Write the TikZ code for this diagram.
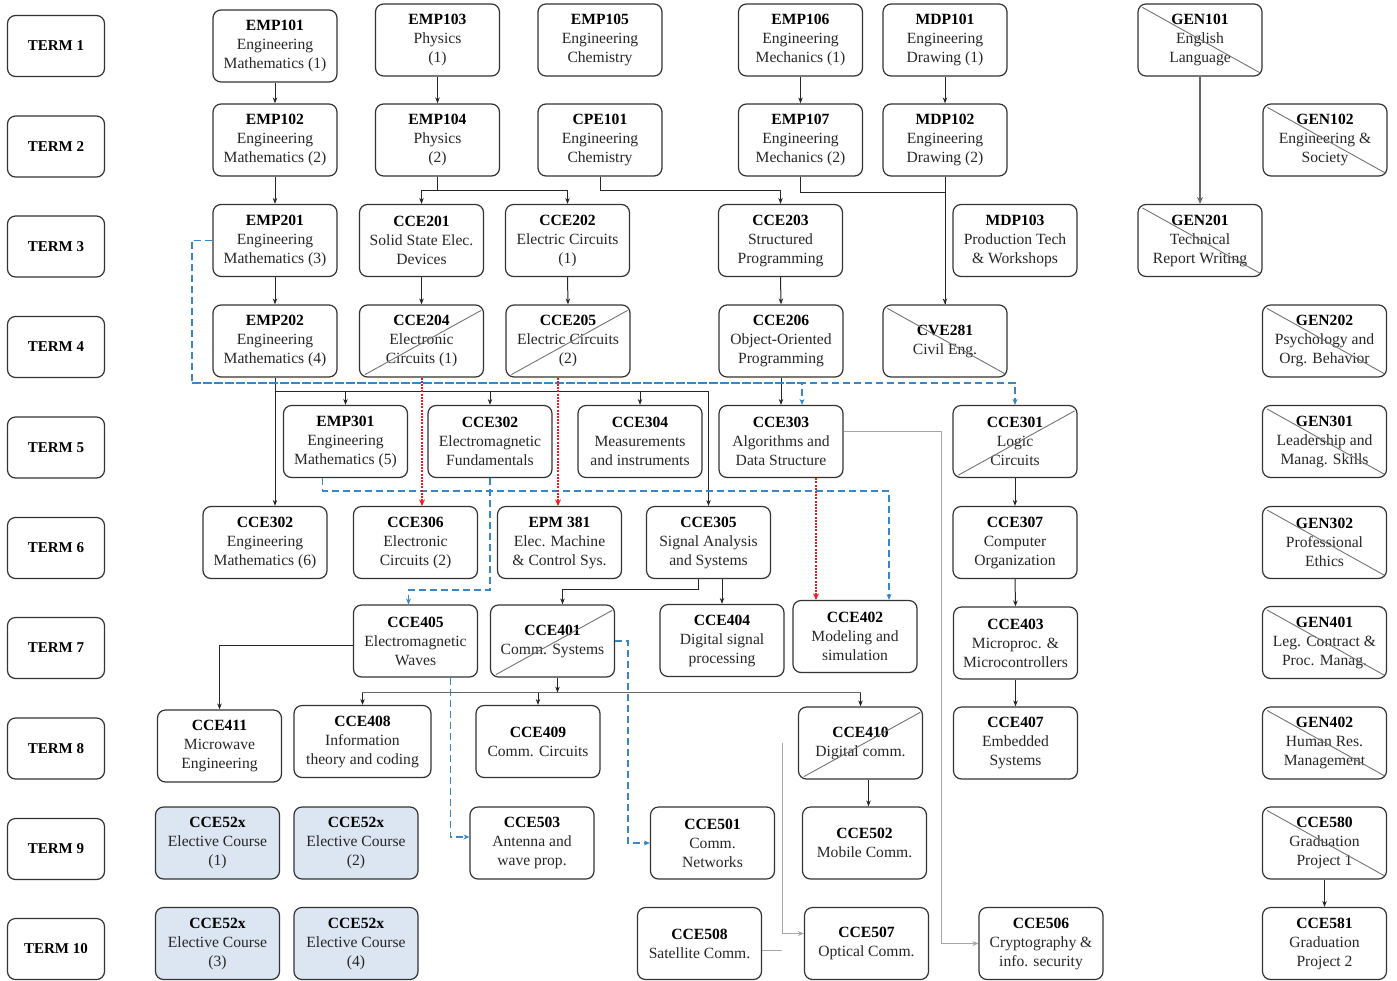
\documentclass[tikz,border=0pt]{standalone}
\usepackage{fontspec}
\setmainfont{Liberation Serif}
\usetikzlibrary{arrows.meta,calc}
\definecolor{bdcol}{RGB}{58,134,196}
\definecolor{rdcol}{RGB}{230,30,30}
\definecolor{elfill}{RGB}{220,230,242}
\newcommand\cn[1]{{\color{black}\bfseries #1}}
\newcommand\xdn[1]{\draw[crossl] ($(#1.north west)+(5,4)$) -- ($(#1.south east)+(-3,-4)$);}
\newcommand\xup[1]{\draw[crossl] ($(#1.south west)+(6,-3)$) -- ($(#1.north east)+(-3,6)$);}
\begin{document}
\begin{tikzpicture}[x=1pt,y=-1pt,
 course/.style={draw=black!80, line width=1.2pt, rounded corners=8pt, minimum width=124pt, minimum height=72pt, inner sep=1pt, align=center, font=\fontsize{15.6}{19}\selectfont, text=black!85},
 termbox/.style={draw=black!80, line width=1.2pt, rounded corners=8pt, minimum width=97pt, minimum height=61pt, font=\fontsize{15}{18}\selectfont\bfseries},
 elective/.style={course, fill=elfill},
 conn/.style={draw=black!85, line width=1pt, -{Stealth[length=6pt,width=4.5pt]}},
 plain/.style={draw=black!85, line width=1pt},
 bus/.style={draw=black!60, line width=1.6pt},
 bdash/.style={draw=bdcol, line width=1.4pt, dash pattern=on 7pt off 4pt, -{Stealth[length=6pt,width=5pt]}},
 rdot/.style={draw=rdcol, line width=1.7pt, dash pattern=on 2pt off 1.2pt, -{Stealth[length=6.5pt,width=6pt]}},
 crossl/.style={draw=black!55, line width=0.9pt},
 glight/.style={draw=black!35, line width=1pt},
]
\useasboundingbox (0,0) rectangle (1397,980);

% term labels
\node[termbox] (T1) at (56,46) {TERM 1};
\node[termbox] (T2) at (56,146.5) {TERM 2};
\node[termbox] (T3) at (56,246.5) {TERM 3};
\node[termbox] (T4) at (56,347) {TERM 4};
\node[termbox] (T5) at (56,447.5) {TERM 5};
\node[termbox] (T6) at (56,548) {TERM 6};
\node[termbox] (T7) at (56,648) {TERM 7};
\node[termbox] (T8) at (56,748.5) {TERM 8};
\node[termbox] (T9) at (56,849) {TERM 9};
\node[termbox] (T10) at (56,949) {TERM 10};

% row 1
\node[course] (EMP101) at (275,46) {\cn{EMP101}\\Engineering\\Mathematics (1)};
\node[course] (EMP103) at (437.5,40) {\cn{EMP103}\\Physics\\(1)};
\node[course] (EMP105) at (600,40) {\cn{EMP105}\\Engineering\\Chemistry};
\node[course] (EMP106) at (800.5,40) {\cn{EMP106}\\Engineering\\Mechanics (1)};
\node[course] (MDP101) at (945,40) {\cn{MDP101}\\Engineering\\Drawing (1)};
\node[course] (GEN101) at (1200,40) {\cn{GEN101}\\English\\Language};
% row 2
\node[course] (EMP102) at (275,140) {\cn{EMP102}\\Engineering\\Mathematics (2)};
\node[course] (EMP104) at (437.5,140) {\cn{EMP104}\\Physics\\(2)};
\node[course] (CPE101) at (600,140) {\cn{CPE101}\\Engineering\\Chemistry};
\node[course] (EMP107) at (800.5,140) {\cn{EMP107}\\Engineering\\Mechanics (2)};
\node[course] (MDP102) at (945,140) {\cn{MDP102}\\Engineering\\Drawing (2)};
\node[course] (GEN102) at (1325,140) {\cn{GEN102}\\Engineering \&\\Society};
% row 3
\node[course] (EMP201) at (275,240.5) {\cn{EMP201}\\Engineering\\Mathematics (3)};
\node[course] (CCE201) at (421.5,240.5) {\cn{CCE201}\\Solid State Elec.\\Devices};
\node[course] (CCE202) at (567.5,240.5) {\cn{CCE202}\\Electric Circuits\\(1)};
\node[course] (CCE203) at (780.5,240.5) {\cn{CCE203}\\Structured\\Programming};
\node[course] (MDP103) at (1015,240.5) {\cn{MDP103}\\Production Tech\\\& Workshops};
\node[course] (GEN201) at (1200,240.5) {\cn{GEN201}\\Technical\\Report Writing};
% row 4
\node[course] (EMP202) at (275,341) {\cn{EMP202}\\Engineering\\Mathematics (4)};
\node[course] (CCE204) at (421.5,341) {\cn{CCE204}\\Electronic\\Circuits (1)};
\node[course] (CCE205) at (568,341) {\cn{CCE205}\\Electric Circuits\\(2)};
\node[course] (CCE206) at (781,341) {\cn{CCE206}\\Object-Oriented\\Programming};
\node[course] (CVE281) at (945,341) {\cn{CVE281}\\Civil Eng.};
\node[course] (GEN202) at (1324.5,341) {\cn{GEN202}\\Psychology and\\Org. Behavior};
% row 5
\node[course] (EMP301) at (345.5,441.5) {\cn{EMP301}\\Engineering\\Mathematics (5)};
\node[course] (CCE302) at (490,441.5) {\cn{CCE302}\\Electromagnetic\\Fundamentals};
\node[course] (CCE304) at (640,441.5) {\cn{CCE304}\\Measurements\\and instruments};
\node[course] (CCE303) at (781,441.5) {\cn{CCE303}\\Algorithms and\\Data Structure};
\node[course] (CCE301) at (1015,441.5) {\cn{CCE301}\\Logic\\Circuits};
\node[course] (GEN301) at (1324.5,441.5) {\cn{GEN301}\\Leadership and\\Manag. Skills};
% row 6
\node[course] (CCE302b) at (265,542.5) {\cn{CCE302}\\Engineering\\Mathematics (6)};
\node[course] (CCE306) at (415.5,542.5) {\cn{CCE306}\\Electronic\\Circuits (2)};
\node[course] (EPM381) at (559.5,542.5) {\cn{EPM 381}\\Elec. Machine\\\& Control Sys.};
\node[course] (CCE305) at (708.5,542.5) {\cn{CCE305}\\Signal Analysis\\and Systems};
\node[course] (CCE307) at (1015,542.5) {\cn{CCE307}\\Computer\\Organization};
\node[course] (GEN302) at (1324.5,542.5) {\cn{GEN302}\\Professional\\Ethics};
% row 7
\node[course] (CCE405) at (415.5,641) {\cn{CCE405}\\Electromagnetic\\Waves};
\node[course] (CCE401) at (552.5,641) {\cn{CCE401}\\Comm. Systems};
\node[course] (CCE404) at (722,640.5) {\cn{CCE404}\\Digital signal\\processing};
\node[course] (CCE402) at (855,636.5) {\cn{CCE402}\\Modeling and\\simulation};
\node[course] (CCE403) at (1015.5,643) {\cn{CCE403}\\Microproc. \&\\Microcontrollers};
\node[course] (GEN401) at (1324.5,642.5) {\cn{GEN401}\\Leg. Contract \&\\Proc. Manag.};
% row 8
\node[course] (CCE411) at (219.5,746) {\cn{CCE411}\\Microwave\\Engineering};
\node[course, minimum width=137pt] (CCE408) at (362.5,741.5) {\cn{CCE408}\\Information\\theory and coding};
\node[course] (CCE409) at (538,741.5) {\cn{CCE409}\\Comm. Circuits};
\node[course] (CCE410) at (860.5,743) {\cn{CCE410}\\Digital comm.};
\node[course] (CCE407) at (1015.5,743) {\cn{CCE407}\\Embedded\\Systems};
\node[course] (GEN402) at (1324.5,743) {\cn{GEN402}\\Human Res.\\Management};
% row 9
\node[elective] (E1) at (217.5,843) {\cn{CCE52x}\\Elective Course\\(1)};
\node[elective] (E2) at (356,843) {\cn{CCE52x}\\Elective Course\\(2)};
\node[course] (CCE503) at (532,843) {\cn{CCE503}\\Antenna and\\wave prop.};
\node[course] (CCE501) at (712.5,843) {\cn{CCE501}\\Comm.\\Networks};
\node[course] (CCE502) at (864.5,843) {\cn{CCE502}\\Mobile Comm.};
\node[course] (CCE580) at (1324.5,843) {\cn{CCE580}\\Graduation\\Project 1};
% row 10
\node[elective] (E3) at (217.5,943.5) {\cn{CCE52x}\\Elective Course\\(3)};
\node[elective] (E4) at (356,943.5) {\cn{CCE52x}\\Elective Course\\(4)};
\node[course] (CCE508) at (699.5,943.5) {\cn{CCE508}\\Satellite Comm.};
\node[course] (CCE507) at (866.5,943.5) {\cn{CCE507}\\Optical Comm.};
\node[course] (CCE506) at (1041,943.5) {\cn{CCE506}\\Cryptography \&\\info. security};
\node[course] (CCE581) at (1324.5,943.5) {\cn{CCE581}\\Graduation\\Project 2};

% cross-outs
\xdn{GEN101} \xdn{GEN102} \xdn{GEN201} \xup{CCE204} \xup{CCE205} \xdn{CVE281}
\xdn{GEN202} \xup{CCE301} \xdn{GEN301} \xdn{GEN302} \xup{CCE401} \xdn{GEN401}
\xup{CCE410} \xdn{GEN402} \xdn{CCE580}

% solid prerequisites
\draw[conn] (EMP101.south) -- (EMP102.north);
\draw[conn] (EMP102.south) -- (EMP201.north);
\draw[conn] (EMP201.south) -- (EMP202.north);
\draw[conn] (EMP103.south) -- (EMP104.north);
\draw[conn] (EMP104.south) -- ++(0,14) -| (CCE201.north);
\draw[conn] (EMP104.south) -- ++(0,14) -| (CCE202.north);
\draw[conn] (CPE101.south) -- ++(0,14) -| (CCE203.north);
\draw[conn] (EMP106.south) -- (EMP107.north);
\draw[plain] (EMP107.south) -- ++(0,16) -| (MDP102.south |- CVE281.north);
\draw[conn] (MDP101.south) -- (MDP102.north);
\draw[conn] (MDP102.south) -- (CVE281.north);
\draw[draw=black!60, line width=2.2pt, -{Stealth[length=7pt,width=6pt]}] (GEN101.south) -- (GEN201.north);
\draw[conn] (CCE201.south) -- (CCE204.north);
\draw[conn] (CCE202.south) -- (CCE205.north);
\draw[conn] (CCE203.south) -- (CCE206.north);
\draw[conn] (CCE206.south) -- (CCE303.north);

\coordinate (b5) at ($(EMP202.south)+(0,14)$);
\draw[conn] (EMP202.south) -- (EMP202.south |- CCE302b.north);
\draw[conn] (b5) -| (EMP301.north);
\draw[conn] (b5) -| (CCE302.north);
\draw[conn] (b5) -| (CCE304.north);
\draw[conn] (b5) -| (CCE305.north);

\draw[conn] ([xshift=-10pt]CCE305.south) -- ++(0,10) -| ([xshift=10pt]CCE401.north);
\draw[conn] (CCE404.north |- CCE305.south) -- (CCE404.north);
\draw[conn] ([yshift=-4pt]CCE405.west) -| (CCE411.north);

\draw[conn] ([xshift=5pt]CCE401.south) -- ++(0,15) coordinate (b8);
\draw[bus] (b8) -| ($(CCE408.north)+(0,-5)$);
\draw[bus] (b8) -| ($(CCE410.north)+(0,-5)$);
\draw[conn] (b8 -| CCE408.north) -- (CCE408.north);
\draw[conn] (b8 -| CCE409.north) -- (CCE409.north);
\draw[conn] (b8 -| CCE410.north) -- (CCE410.north);
\draw[conn] ([xshift=8pt]CCE410.south) -- ([xshift=8pt]CCE410.south |- CCE502.north);

\draw[conn] (CCE301.south) -- (CCE307.north);
\draw[conn] (CCE307.south) -- (CCE403.north);
\draw[conn] (CCE403.south) -- (CCE407.north);
\draw[conn] (CCE580.south) -- (CCE581.north);

% light grey connectors
\draw[glight, -{Stealth[length=6pt,width=5pt]}] ([yshift=10pt]CCE303.east) -| ($(CCE506.west)+(-37,0)$) -- (CCE506.west);
\draw[glight, -{Stealth[length=6pt,width=5pt]}] ([xshift=-15pt]CCE410.west) |- ([yshift=10pt]CCE507.west);
\draw[glight] ([yshift=-7pt]CCE508.east) -- ([yshift=-7pt,xshift=20pt]CCE508.east);

% blue dashed
\coordinate (blue4) at (192,383);
\draw[bdash] (EMP201.west) -| (blue4) -| (CCE301.north);
\draw[bdash] (blue4) -| ([xshift=21pt]CCE303.north);
\draw[bdash] ([xshift=-23pt]EMP301.south) -- ++(0,13) -| ([xshift=34pt]CCE402.north);
\draw[bdash] (CCE302.south) -- ++(0,112) -| ([xshift=-7pt]CCE405.north);
\draw[bdash] ([xshift=35pt]CCE405.south) |- ([yshift=6pt]CCE503.west);
\draw[bdash] (CCE401.east) -- ++(13,0) |- (CCE501.west);

% red dotted
\draw[rdot] ([xshift=0.5pt]CCE204.south) -- ([xshift=0.5pt]CCE204.south |- CCE306.north);
\draw[rdot] ([xshift=-1.5pt]EPM381.north |- CCE205.south) -- ([xshift=-1.5pt]EPM381.north);
\draw[rdot] ([xshift=35pt]CCE303.south) -- ([xshift=35pt]CCE303.south |- CCE402.north);
\end{tikzpicture}
\end{document}
